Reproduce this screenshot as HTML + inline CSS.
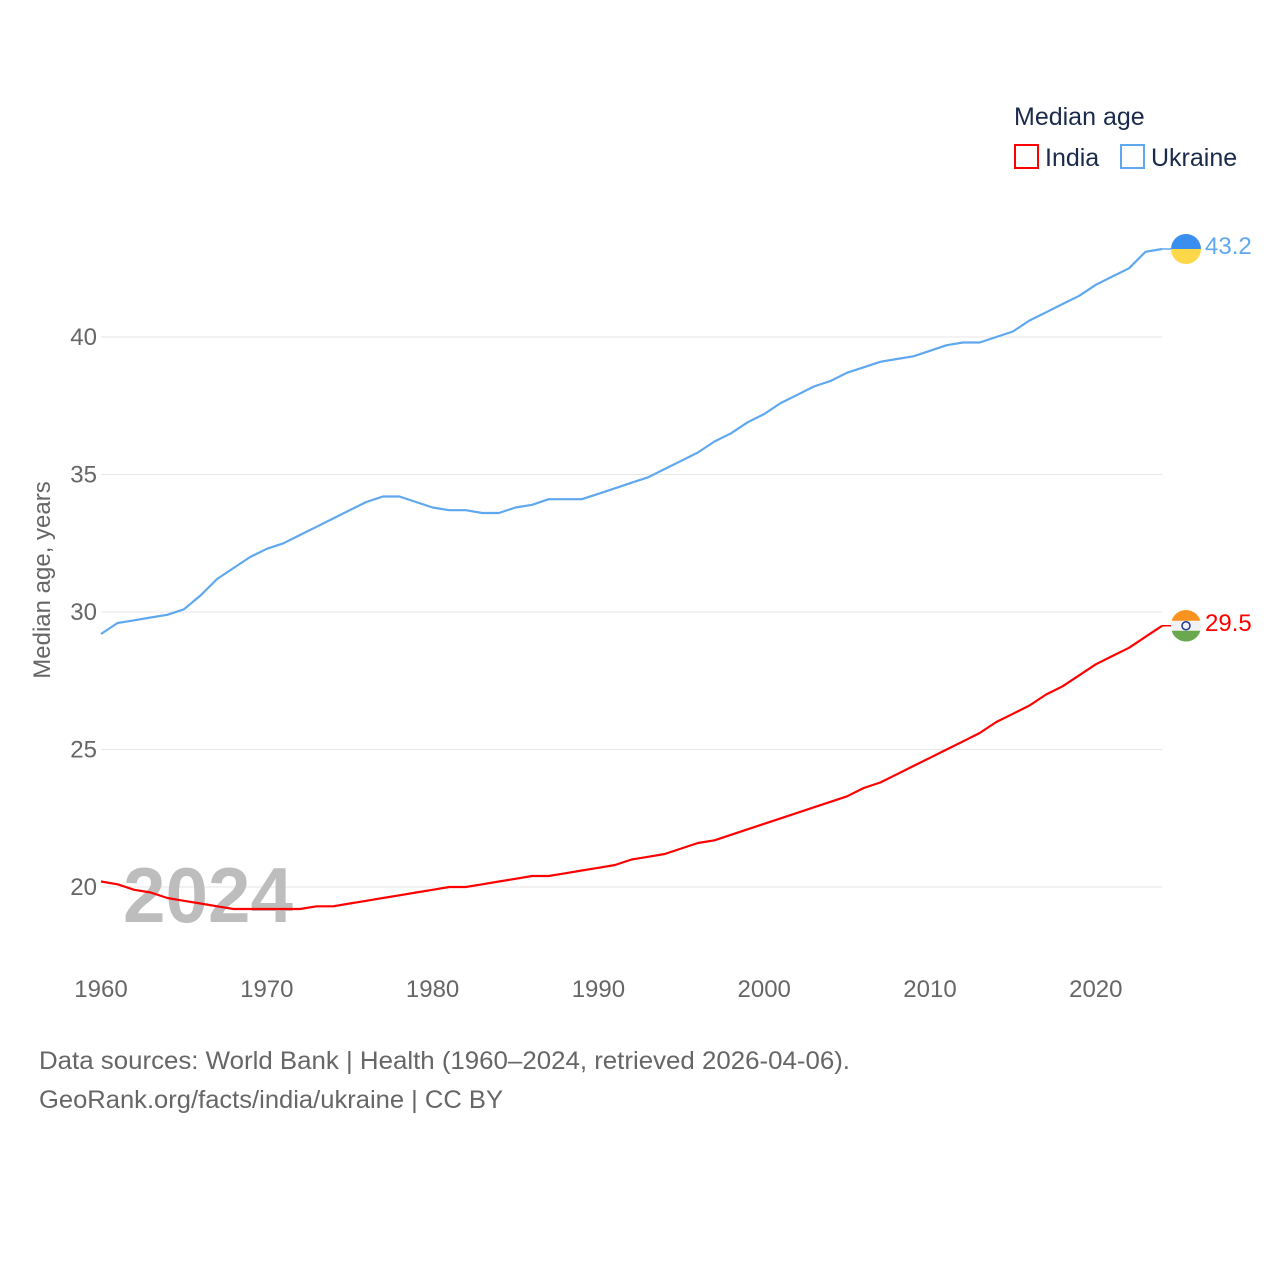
<!DOCTYPE html>
<html><head><meta charset="utf-8"><style>
body{margin:0;background:#fff;width:1280px;height:1280px;overflow:hidden;font-family:"Liberation Sans",sans-serif}
svg{display:block}
</style></head><body>
<svg id="chart" width="1280" height="1280">
<g id="grid"></g>
<text x="123" y="922" font-size="78" fill="#bdbdbd" font-weight="bold" textLength="170" lengthAdjust="spacingAndGlyphs">2024</text>
<g id="yticks"></g>
<g id="xticks"></g>
<text transform="translate(50,580) rotate(-90)" text-anchor="middle" font-size="24" fill="#666">Median age, years</text>
<g id="series"></g>
<g>
<text x="1014" y="125" font-size="25" fill="#1a2a4a">Median age</text>
<rect x="1015" y="145" width="23" height="23" fill="none" stroke="#ff0000" stroke-width="2"/>
<text x="1045" y="166" font-size="25" fill="#1a2a4a">India</text>
<rect x="1121" y="145" width="23" height="23" fill="none" stroke="#5fa8ef" stroke-width="2"/>
<text x="1151" y="166" font-size="25" fill="#1a2a4a">Ukraine</text>
</g>
<text x="39" y="1069" font-size="25" fill="#666" textLength="811" lengthAdjust="spacingAndGlyphs">Data sources: World Bank | Health (1960–2024, retrieved 2026-04-06).</text>
<text x="39" y="1108" font-size="25" fill="#666" textLength="464" lengthAdjust="spacingAndGlyphs">GeoRank.org/facts/india/ukraine | CC BY</text>
</svg>
<script>
const years=[];for(let y=1960;y<=2024;y++)years.push(y);
const ukraine=[29.2,29.6,29.7,29.8,29.9,30.1,30.6,31.2,31.6,32.0,32.3,32.5,32.8,33.1,33.4,33.7,34.0,34.2,34.2,34.0,33.8,33.7,33.7,33.6,33.6,33.8,33.9,34.1,34.1,34.1,34.3,34.5,34.7,34.9,35.2,35.5,35.8,36.2,36.5,36.9,37.2,37.6,37.9,38.2,38.4,38.7,38.9,39.1,39.2,39.3,39.5,39.7,39.8,39.8,40.0,40.2,40.6,40.9,41.2,41.5,41.9,42.2,42.5,43.1,43.2];
const india=[20.2,20.1,19.9,19.8,19.6,19.5,19.4,19.3,19.2,19.2,19.2,19.2,19.2,19.3,19.3,19.4,19.5,19.6,19.7,19.8,19.9,20.0,20.0,20.1,20.2,20.3,20.4,20.4,20.5,20.6,20.7,20.8,21.0,21.1,21.2,21.4,21.6,21.7,21.9,22.1,22.3,22.5,22.7,22.9,23.1,23.3,23.6,23.8,24.1,24.4,24.7,25.0,25.3,25.6,26.0,26.3,26.6,27.0,27.3,27.7,28.1,28.4,28.7,29.1,29.5];
const yTicks=[20,25,30,35,40];
const xTicks=[1960,1970,1980,1990,2000,2010,2020];
const X=y=>101+(y-1960)*16.58;
const Y=v=>887-(v-20)*27.5;
const NS="http://www.w3.org/2000/svg";
function mk(t,a,p){const e=document.createElementNS(NS,t);for(const k in a)e.setAttribute(k,a[k]);p.appendChild(e);return e;}
const grid=document.getElementById('grid'),yt=document.getElementById('yticks'),xt=document.getElementById('xticks'),ser=document.getElementById('series');
yTicks.forEach(v=>{
 const l=mk('line',{x1:101,x2:1162,y1:Y(v),y2:Y(v),stroke:'#e6e6e6','stroke-width':1},grid);
 
 
 const t=mk('text',{x:97,y:Y(v)+8,'text-anchor':'end','font-size':24,fill:'#666'},yt);t.textContent=v;
 
 
});
xTicks.forEach(v=>{
 const t=mk('text',{x:X(v),y:997,'text-anchor':'middle','font-size':24,fill:'#666'},xt);t.textContent=v;
 
 
});
function line(vals,color,name){
 const d=vals.map((v,i)=>(i?'L':'M')+X(years[i]).toFixed(1)+' '+Y(v).toFixed(1)).join(' ');
 const p=mk('path',{d:d,fill:'none',stroke:color,'stroke-width':2.2,'stroke-linejoin':'round'},ser);
 
 
 const last=vals[vals.length-1],ly=Y(last),lx=X(years[years.length-1]);
 const c=mk('line',{x1:lx,x2:1178,y1:ly,y2:ly,stroke:color,'stroke-width':1.5},ser);
 
 
 const g=mk('g',{},ser);
 
 
 if(name==='ukraine'){
  mk('path',{d:`M1171 ${ly} A15 15 0 0 1 1201 ${ly} Z`,fill:'#3a8ef0'},g);
  mk('path',{d:`M1171 ${ly} A15 15 0 0 0 1201 ${ly} Z`,fill:'#ffd84a'},g);
 }else{
  mk('circle',{cx:1186,cy:ly,r:15,fill:'#f2f2f2'},g);
  mk('path',{d:`M1171.6 ${ly-5} A15 15 0 0 1 1200.4 ${ly-5} Z`,fill:'#f7931e'},g);
  mk('path',{d:`M1171.6 ${ly+5} A15 15 0 0 0 1200.4 ${ly+5} Z`,fill:'#6aa84f'},g);
  mk('circle',{cx:1186,cy:ly,r:4,fill:'none',stroke:'#1a3a9a','stroke-width':1.5},g);
 }
 const t=mk('text',{x:1205,y:ly+5,'font-size':24,fill:color},ser);t.textContent=last.toFixed(1);
 
 
}
line(ukraine,'#5fa8ef','ukraine');
line(india,'#ff0000','india');
</script>
</body></html>
